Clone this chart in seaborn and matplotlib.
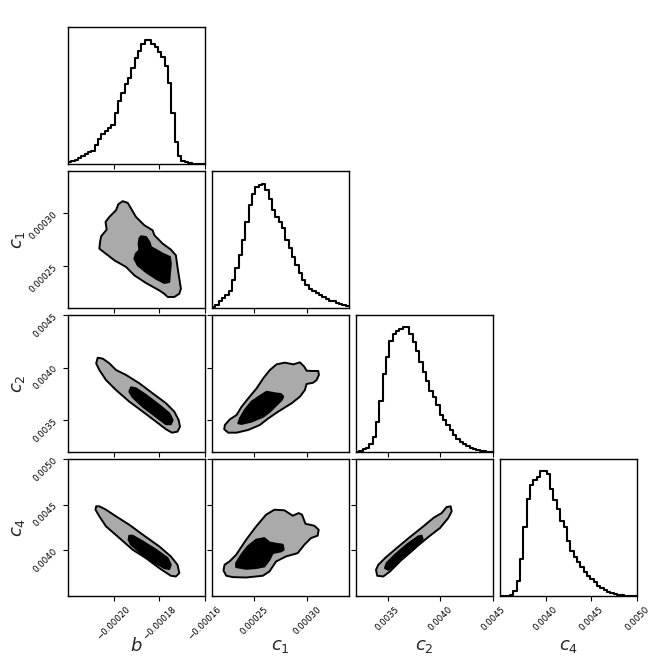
import numpy as np
import pandas as pd
import matplotlib
matplotlib.use("Agg")
import matplotlib.pyplot as plt
from matplotlib.ticker import FuncFormatter
import seaborn as sns

# Parameters of the corner plot
params = ["b", "c1", "c2", "c4"]
labels = {"b": r"$b$", "c1": r"$c_1$", "c2": r"$c_2$", "c4": r"$c_4$"}
ranges = {"b": (-0.00022, -0.00016), "c1": (0.00021, 0.00034),
          "c2": (0.0032, 0.0045), "c4": (0.0035, 0.0050)}
ticks = {"b": [-0.00020, -0.00018, -0.00016], "c1": [0.00025, 0.00030],
         "c2": [0.0035, 0.0040, 0.0045], "c4": [0.0040, 0.0045, 0.0050]}
decimals = {"b": 5, "c1": 5, "c2": 4, "c4": 4}

# 1D marginal histograms (41 bins across each range, arbitrary units)
hist_b = [5, 8, 13, 17, 23, 30, 35, 40, 57, 75, 88, 97, 108, 115, 150, 185, 210, 235,
          255, 285, 313, 335, 355, 367, 365, 355, 345, 330, 315, 290, 240, 150, 65, 25,
          10, 5, 2, 1, 0, 0, 0]
hist_c1 = [2, 10, 20, 30, 40, 50, 85, 120, 160, 205, 260, 312, 345, 365, 372, 375, 355,
           330, 295, 275, 258, 240, 205, 180, 155, 130, 105, 85, 70, 58, 52, 45, 38, 32,
           26, 22, 20, 16, 13, 10, 7]
hist_c2 = [1, 4, 8, 12, 25, 45, 90, 155, 235, 285, 335, 355, 365, 370, 375, 375, 355,
           330, 305, 270, 240, 215, 185, 165, 140, 110, 95, 80, 65, 50, 40, 30, 23, 18,
           13, 9, 6, 4, 2, 1, 0]
hist_c4 = [0, 0, 0, 2, 15, 45, 110, 205, 290, 330, 345, 355, 372, 372, 365, 318, 285,
           260, 225, 205, 165, 135, 115, 100, 85, 70, 60, 50, 40, 30, 22, 18, 12, 8, 5,
           3, 2, 1, 0, 0, 0]
hists = {"b": hist_b, "c1": hist_c1, "c2": hist_c2, "c4": hist_c4}

# 2D credible regions (outer and inner level), in units of 1e-6
b_c1_outer = [(-196.0, 311.5), (-193.8, 309.9), (-192.3, 304.5), (-190.2, 296.6),
              (-186.5, 288.6), (-182.9, 283.9), (-182.1, 279.1), (-178.5, 271.2),
              (-174.9, 265.5), (-172.7, 260.1), (-172.0, 249.0), (-171.2, 237.9),
              (-170.5, 228.4), (-171.2, 223.6), (-173.4, 220.5), (-176.3, 220.5),
              (-177.8, 223.6), (-180.0, 226.8), (-185.8, 233.8), (-190.9, 241.1),
              (-194.5, 249.0), (-199.6, 255.3), (-206.2, 266.4), (-205.9, 272.8),
              (-205.4, 278.2), (-203.0, 284.5), (-203.5, 291.8), (-201.8, 296.6),
              (-198.9, 302.9), (-197.9, 308.6)]
b_c1_inner = [(-188.0, 278.2), (-185.8, 277.5), (-184.3, 272.8), (-183.6, 268.0),
              (-178.5, 261.7), (-175.3, 258.5), (-174.9, 252.2), (-175.3, 242.7),
              (-175.6, 234.7), (-177.8, 233.8), (-181.4, 237.9), (-185.8, 244.2),
              (-189.4, 250.6), (-190.9, 256.9), (-190.2, 261.7), (-188.7, 264.9),
              (-189.0, 271.2), (-188.7, 276.0)]
b_c2_outer = [(-206.9, 4095), (-204.7, 4086), (-201.8, 4041), (-198.9, 3978),
              (-194.5, 3931), (-188.7, 3852), (-182.9, 3757), (-177.0, 3662),
              (-173.4, 3583), (-171.5, 3504), (-170.9, 3440), (-172.0, 3393),
              (-174.4, 3383), (-177.0, 3415), (-181.4, 3488), (-187.2, 3583),
              (-193.1, 3678), (-198.9, 3788), (-203.3, 3883), (-206.2, 3978),
              (-207.6, 4041)]
b_c2_inner = [(-192.3, 3814), (-190.2, 3804), (-185.8, 3741), (-180.0, 3646),
              (-175.6, 3567), (-174.1, 3504), (-174.9, 3463), (-177.0, 3463),
              (-181.4, 3535), (-187.2, 3630), (-191.6, 3719), (-193.1, 3773)]
b_c4_outer = [(-207.6, 4481), (-206.2, 4481), (-203.3, 4444), (-198.9, 4371),
              (-193.1, 4279), (-187.2, 4170), (-180.0, 4042), (-174.9, 3932),
              (-172.0, 3840), (-171.2, 3749), (-172.7, 3712), (-174.9, 3720),
              (-180.0, 3804), (-185.8, 3913), (-191.6, 4005), (-197.4, 4133),
              (-203.3, 4261), (-206.2, 4371), (-207.9, 4444)]
b_c4_inner = [(-193.1, 4159), (-191.6, 4159), (-187.2, 4096), (-181.4, 4005),
              (-176.3, 3913), (-174.9, 3840), (-175.6, 3793), (-177.8, 3804),
              (-182.9, 3877), (-188.0, 3968), (-192.3, 4060), (-193.4, 4115)]
c1_c2_outer = [(222.3, 3456), (227.1, 3510), (233.4, 3551), (238.2, 3630),
               (244.5, 3709), (252.4, 3804), (258.7, 3899), (265.0, 3978),
               (271.4, 4032), (279.3, 4048), (287.2, 4032), (293.5, 4051),
               (297.6, 4010), (299.8, 3972), (304.6, 3969), (310.9, 3969),
               (311.5, 3931), (309.3, 3883), (306.2, 3858), (299.8, 3845),
               (298.2, 3788), (293.5, 3725), (285.6, 3662), (272.9, 3583),
               (263.5, 3519), (255.5, 3456), (244.5, 3409), (233.4, 3383),
               (225.5, 3383), (221.7, 3415)]
c1_c2_inner = [(235.0, 3472), (236.6, 3519), (241.3, 3599), (247.6, 3678),
               (255.5, 3731), (261.9, 3772), (269.8, 3757), (275.5, 3750),
               (277.7, 3725), (276.1, 3693), (271.4, 3646), (265.0, 3583),
               (258.7, 3535), (247.6, 3488), (238.2, 3466)]
c1_c4_outer = [(222.0, 3840), (226.7, 3877), (233.0, 3950), (242.5, 4115),
               (252.0, 4261), (261.4, 4389), (269.3, 4444), (278.8, 4437),
               (286.7, 4378), (292.3, 4407), (295.5, 4389), (298.7, 4290),
               (307.2, 4268), (311.3, 4224), (310.3, 4159), (304.0, 4133),
               (297.7, 4060), (291.4, 3968), (280.4, 3932), (270.9, 3877),
               (264.6, 3767), (258.3, 3720), (242.5, 3701), (229.9, 3705),
               (223.6, 3720), (221.0, 3778)]
c1_c4_inner = [(233.0, 3815), (233.0, 3859), (237.8, 3950), (244.1, 4042),
               (252.0, 4115), (259.8, 4133), (264.6, 4085), (270.9, 4071),
               (277.2, 4060), (278.1, 4005), (275.6, 3987), (267.7, 3968),
               (264.6, 3895), (259.8, 3822), (252.0, 3804), (242.5, 3796)]
c2_c4_outer = [(3390, 3785), (3412, 3840), (3475, 3913), (3586, 4023), (3712, 4144),
               (3839, 4261), (3934, 4353), (4013, 4407), (4060, 4473), (4098, 4481),
               (4108, 4426), (4076, 4353), (3997, 4243), (3886, 4144), (3760, 4023),
               (3633, 3895), (3523, 3767), (3459, 3712), (3402, 3720)]
c2_c4_inner = [(3475, 3804), (3491, 3859), (3570, 3950), (3681, 4060), (3791, 4151),
               (3823, 4159), (3833, 4122), (3760, 4023), (3649, 3913), (3554, 3822),
               (3507, 3785)]
regions = {("b", "c1"): (b_c1_outer, b_c1_inner), ("b", "c2"): (b_c2_outer, b_c2_inner),
           ("b", "c4"): (b_c4_outer, b_c4_inner), ("c1", "c2"): (c1_c2_outer, c1_c2_inner),
           ("c1", "c4"): (c1_c4_outer, c1_c4_inner), ("c2", "c4"): (c2_c4_outer, c2_c4_inner)}

sns.set_theme(style="ticks")
plt.rcParams["font.family"] = ["DejaVu Sans"]
plt.rcParams["mathtext.fontset"] = "dejavusans"
plt.rcParams["axes.edgecolor"] = "#000000"
plt.rcParams["axes.linewidth"] = 1.0
for ax_name in ("xtick", "ytick"):
    plt.rcParams[f"{ax_name}.color"] = "#000000"
    plt.rcParams[f"{ax_name}.labelsize"] = 6.2
    plt.rcParams[f"{ax_name}.major.size"] = 3.5
    plt.rcParams[f"{ax_name}.major.width"] = 0.8
    plt.rcParams[f"{ax_name}.major.pad"] = 3.0

BLACK = "#000000"
GREY = "#aaaaaa"


def fmt(nd):
    return FuncFormatter(lambda v, pos: f"{v:.{nd}f}".replace("-", "\u2212"))


fig, axes = plt.subplots(4, 4, figsize=(6.65, 6.65), dpi=100)
fig.subplots_adjust(left=0.102, right=0.958, bottom=0.104, top=0.959,
                    wspace=0.051, hspace=0.051)

n = len(params)
for i in range(n):
    for j in range(n):
        ax = axes[i, j]
        if j > i:
            ax.set_axis_off()
            continue
        px, py = params[j], params[i]
        if i == j:
            h = np.array(hists[px], dtype=float)
            edges = np.linspace(*ranges[px], len(h) + 1)
            hdf = pd.DataFrame({"x": 0.5 * (edges[:-1] + edges[1:]), "w": h})
            sns.histplot(data=hdf, x="x", weights="w", bins=len(h), binrange=ranges[px],
                         element="step", fill=False, color=BLACK, linewidth=1.5, ax=ax)
            ax.set_ylim(0, 1.1 * h.max())
            ax.set_yticks([])
            ax.set_ylabel("")
        else:
            outer, inner = regions[(px, py)]
            for poly, col in [(outer, GREY), (inner, BLACK)]:
                arr = np.array(poly) * 1e-6
                ax.fill(arr[:, 0], arr[:, 1], facecolor=col, edgecolor=BLACK,
                        linewidth=1.4, joinstyle="round")
            ax.set_ylim(ranges[py])
            ax.set_yticks(ticks[py])
            if j == 0:
                ax.yaxis.set_major_formatter(fmt(decimals[py]))
                for t in ax.get_yticklabels():
                    t.set_rotation(45)
                ax.set_ylabel(labels[py], fontsize=13)
                ax.yaxis.set_label_coords(-0.3, 0.5)
            else:
                ax.set_yticklabels([])
        ax.set_xlim(ranges[px])
        ax.set_xticks(ticks[px])
        if i == n - 1:
            ax.xaxis.set_major_formatter(fmt(decimals[px]))
            for t in ax.get_xticklabels():
                t.set_rotation(45)
            ax.set_xlabel(labels[px], fontsize=13)
            ax.xaxis.set_label_coords(0.5, -0.3)
        else:
            ax.set_xticklabels([])
            ax.set_xlabel("")
        for s in ax.spines.values():
            s.set_visible(True)

fig.savefig("out.png", dpi=100)
